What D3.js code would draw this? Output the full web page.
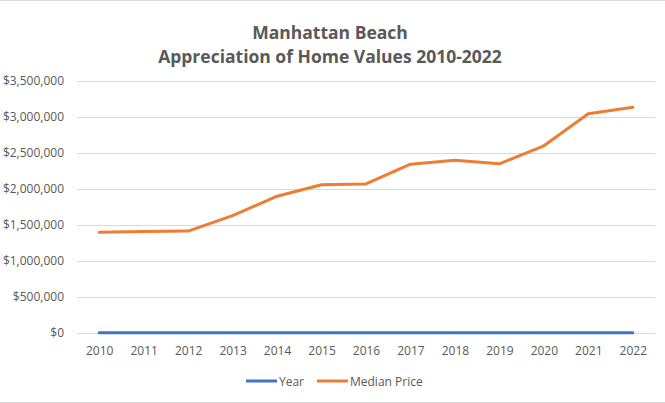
<!DOCTYPE html>
<html>
<head>
<meta charset="utf-8">
<script src="https://cdn.jsdelivr.net/npm/d3@7"></script>
<style>
  body { margin: 0; background: #fff; }
  svg text { font-family: "Open Sans", "Liberation Sans", sans-serif; fill: #595959; }
</style>
</head>
<body>
<svg id="chart"></svg>
<script>
// data
const years = ["2010", "2011", "2012", "2013", "2014", "2015", "2016",
               "2017", "2018", "2019", "2020", "2021", "2022"];
const yearSeries = [2010, 2011, 2012, 2013, 2014, 2015, 2016, 2017, 2018, 2019, 2020, 2021, 2022];
const medianPrice = [1400000, 1410000, 1415000, 1630000, 1900000, 2060000, 2070000,
                     2345000, 2400000, 2350000, 2600000, 3045000, 3135000];
const yTicks = [0, 500000, 1000000, 1500000, 2000000, 2500000, 3000000, 3500000];
const titleLines = ["Manhattan Beach", "Appreciation of Home Values 2010-2022"];
const seriesNames = ["Year", "Median Price"];
const seriesColors = ["#4472C4", "#ED7D31"];

const W = 665, H = 403;
const margin = {top: 81, right: 10, bottom: 70, left: 77};
const innerW = W - margin.left - margin.right;
const innerH = H - margin.top - margin.bottom;

const svg = d3.select("#chart").attr("width", W).attr("height", H);

// chart border (light gray top/bottom edges)
svg.append("rect")
  .attr("x", -1).attr("y", 0.5)
  .attr("width", W + 2).attr("height", H - 1)
  .attr("fill", "none").attr("stroke", "#d9d9d9");

// title
svg.append("g").selectAll("text")
  .data(titleLines)
  .enter().append("text")
  .attr("x", 330)
  .attr("y", (d, i) => 39 + i * 24)
  .attr("text-anchor", "middle")
  .attr("font-size", "17.5px")
  .attr("font-weight", 700)
  .text(d => d);

const chart = svg.append("g")
  .attr("transform", `translate(${margin.left},${margin.top})`);

const x = d3.scalePoint().domain(years).range([0, innerW]).padding(0.5);
const y = d3.scaleLinear().domain([0, 3500000]).range([innerH, 0]);

// gridlines
chart.append("g")
  .call(d3.axisLeft(y).tickValues(yTicks).tickSize(-innerW).tickFormat(""))
  .call(g => g.select(".domain").remove())
  .call(g => g.selectAll("line").attr("stroke", "#d9d9d9"));

// y axis labels
const fmt = d3.format("$,");
chart.append("g")
  .call(d3.axisLeft(y).tickValues(yTicks).tickSize(0).tickPadding(13).tickFormat(d => fmt(d)))
  .call(g => g.select(".domain").remove())
  .call(g => g.selectAll("text").attr("font-size", "12px").attr("fill", "#595959"));

// x axis labels
chart.append("g")
  .attr("transform", `translate(0,${innerH})`)
  .call(d3.axisBottom(x).tickSize(0).tickPadding(13))
  .call(g => g.select(".domain").remove())
  .call(g => g.selectAll("text").attr("font-size", "12px").attr("fill", "#595959"));

const line = d3.line()
  .x((d, i) => x(years[i]))
  .y(d => y(d));

[yearSeries, medianPrice].forEach((s, k) => {
  chart.append("path")
    .datum(s)
    .attr("fill", "none")
    .attr("stroke", seriesColors[k])
    .attr("stroke-width", 3)
    .attr("stroke-linejoin", "round")
    .attr("stroke-linecap", "round")
    .attr("d", line);
});

// legend
const legend = svg.append("g").attr("transform", "translate(246,381)");
const legendX = [0, 71];
seriesNames.forEach((name, k) => {
  const g = legend.append("g").attr("transform", `translate(${legendX[k]},0)`);
  g.append("line")
    .attr("x1", 0).attr("x2", 31)
    .attr("stroke", seriesColors[k]).attr("stroke-width", 3);
  g.append("text")
    .attr("x", 33).attr("y", 4.5)
    .attr("font-size", "12px")
    .text(name);
});
</script>
</body>
</html>
